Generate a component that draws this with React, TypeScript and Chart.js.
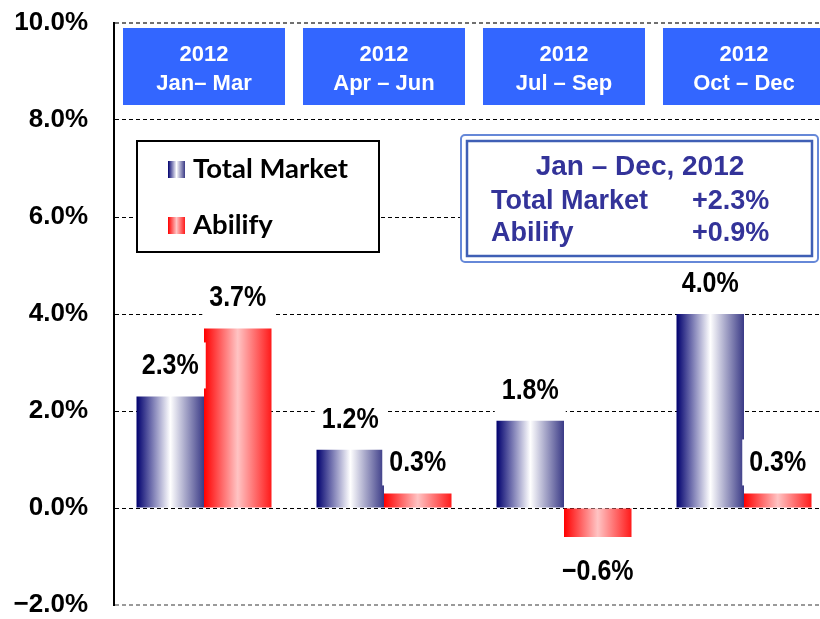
import React, { useEffect, useRef } from 'react';
import { Chart, registerables } from 'chart.js';

Chart.register(...registerables);

// ---- data ----
const periodYears = ['2012', '2012', '2012', '2012'];
const periodNames = ['Jan– Mar', 'Apr – Jun', 'Jul – Sep', 'Oct – Dec'];
const seriesNames = ['Total Market', 'Abilify'];
const totalMarket = [2.3, 1.2, 1.8, 4.0];
const abilify = [3.7, 0.3, -0.6, 0.3];
const yMin = -2;
const yMax = 10;
const yStep = 2;
const summaryTitle = 'Jan – Dec, 2012';
const summaryNames = ['Total Market', 'Abilify'];
const summaryValues = ['+2.3%', '+0.9%'];

const BLUE_STOPS: [number, string][] = [
  [0, '#00006e'],
  [0.5, '#ffffff'],
  [1, '#3a3a86'],
];
const RED_STOPS: [number, string][] = [
  [0, '#ff0000'],
  [0.5, '#ffc4c4'],
  [1, '#ff1a1a'],
];

const fmtPct = (v: number) => (v < 0 ? '\u2212' : '') + Math.abs(v).toFixed(1) + '%';

function grad(ctx: CanvasRenderingContext2D, x0: number, x1: number, stops: [number, string][]) {
  const g = ctx.createLinearGradient(x0, 0, x1, 0);
  stops.forEach(([o, c]) => g.addColorStop(o, c));
  return g;
}

const CAT_PCT = 0.75;

function barFill(stops: [number, string][], fallback: string) {
  return (c: any) => {
    const chart = c.chart;
    const xs = chart.scales && chart.scales.x;
    if (!xs || c.dataIndex === undefined || !chart.chartArea) return fallback;
    const center = xs.getPixelForValue(c.dataIndex);
    const cat = xs.width / periodNames.length;
    const bw = (cat * CAT_PCT) / 2;
    const x0 = c.datasetIndex === 0 ? center - bw : center;
    return grad(chart.ctx, x0, x0 + bw, stops);
  };
}

const overlayPlugin = {
  id: 'overlay',
  afterDatasetsDraw(chart: any) {
    const ctx: CanvasRenderingContext2D = chart.ctx;
    const area = chart.chartArea;
    const xs = chart.scales.x;
    const L = area.left;
    const T = area.top;

    // value labels with white boxes
    ctx.save();
    ctx.font = 'bold 25px "Liberation Sans", Arial, sans-serif';
    ctx.textAlign = 'center';
    ctx.textBaseline = 'middle';
    chart.data.datasets.forEach((ds: any, di: number) => {
      const meta = chart.getDatasetMeta(di);
      meta.data.forEach((el: any, i: number) => {
        const v = ds.data[i];
        const txt = fmtPct(v);
        const cy = v >= 0 ? el.y - 31 : el.y + 34;
        const w = ctx.measureText(txt).width;
        ctx.fillStyle = '#ffffff';
        ctx.fillRect(el.x - w / 2 - 7, cy - 23, w + 14, 46);
        ctx.fillStyle = '#000000';
        ctx.save();
        ctx.translate(el.x, cy + 1);
        ctx.scale(1, 1.15);
        ctx.fillText(txt, 0, 0);
        ctx.restore();
      });
    });
    ctx.restore();

    // header boxes
    ctx.save();
    periodNames.forEach((name, i) => {
      const cx = xs.getPixelForValue(i);
      ctx.fillStyle = '#3366ff';
      ctx.fillRect(cx - 81, T + 5, 162, 77);
      ctx.fillStyle = '#ffffff';
      ctx.font = 'bold 22px "Liberation Sans", Arial, sans-serif';
      ctx.textAlign = 'center';
      ctx.textBaseline = 'alphabetic';
      ctx.fillText(periodYears[i], cx, T + 38);
      ctx.fillText(name, cx, T + 67);
    });
    ctx.restore();

    // legend box
    ctx.save();
    const lx = L + 23;
    const ly = T + 118;
    ctx.fillStyle = '#ffffff';
    ctx.fillRect(lx, ly, 242, 111);
    ctx.strokeStyle = '#000000';
    ctx.lineWidth = 2;
    ctx.strokeRect(lx, ly, 242, 111);
    const sw = [BLUE_STOPS, RED_STOPS];
    seriesNames.forEach((s, k) => {
      const sy = ly + 20 + k * 56;
      ctx.fillStyle = grad(ctx, lx + 31, lx + 48, sw[k]);
      ctx.fillRect(lx + 31, sy, 17, 17);
      ctx.fillStyle = '#000000';
      ctx.font = 'bold 27.5px Lato, "Open Sans", sans-serif';
      ctx.textAlign = 'left';
      ctx.textBaseline = 'alphabetic';
      ctx.fillText(s, lx + 56, sy + 17);
    });
    ctx.restore();

    // summary box
    ctx.save();
    const bx = L + 346;
    const by = T + 111;
    const bw = 359;
    const bh = 129;
    ctx.fillStyle = '#ffffff';
    ctx.fillRect(bx, by, bw, bh);
    ctx.strokeStyle = '#6688d8';
    ctx.lineWidth = 2;
    ctx.beginPath();
    (ctx as any).roundRect ? (ctx as any).roundRect(bx + 1, by + 1, bw - 2, bh - 2, 4) : ctx.rect(bx + 1, by + 1, bw - 2, bh - 2);
    ctx.stroke();
    ctx.strokeStyle = '#3f5fb5';
    ctx.lineWidth = 2.5;
    ctx.strokeRect(bx + 7, by + 7, bw - 14, bh - 14);
    ctx.fillStyle = '#333399';
    ctx.textBaseline = 'alphabetic';
    ctx.font = 'bold 28px "Liberation Sans", Arial, sans-serif';
    ctx.textAlign = 'center';
    ctx.fillText(summaryTitle, bx + 180, by + 41);
    ctx.font = 'bold 27px "Liberation Sans", Arial, sans-serif';
    summaryNames.forEach((n, k) => {
      const yb = by + 75 + k * 32;
      ctx.textAlign = 'left';
      ctx.fillText(n, bx + 31, yb);
      ctx.fillText(summaryValues[k], bx + 232, yb);
    });
    ctx.restore();
  },
};

export default function App() {
  const ref = useRef<HTMLCanvasElement>(null);
  useEffect(() => {
    if (!ref.current) return;
    const chart = new Chart(ref.current, {
      type: 'bar',
      data: {
        labels: periodNames,
        datasets: [
          {
            label: seriesNames[0],
            data: totalMarket,
            backgroundColor: barFill(BLUE_STOPS, '#000080'),
            borderWidth: 0,
          },
          {
            label: seriesNames[1],
            data: abilify,
            backgroundColor: barFill(RED_STOPS, '#ff0000'),
            borderWidth: 0,
          },
        ],
      },
      options: {
        responsive: false,
        devicePixelRatio: 1,
        animation: false,
        layout: { padding: { top: 23, bottom: 35, left: 0, right: 0 } },
        datasets: { bar: { categoryPercentage: CAT_PCT, barPercentage: 1 } },
        plugins: { legend: { display: false }, tooltip: { enabled: false } },
        scales: {
          x: { display: false },
          y: {
            min: yMin,
            max: yMax,
            afterFit: (s: any) => {
              s.width = 114;
              s.paddingTop = 0;
              s.paddingBottom = 0;
            },
            ticks: {
              stepSize: yStep,
              padding: 26,
              color: '#000000',
              font: { family: '"Liberation Sans", Arial, sans-serif', size: 26, weight: 'bold' },
              callback: (v: any) => fmtPct(Number(v)),
            },
            grid: {
              drawTicks: false,
              color: (c: any) => {
                const v = c.tick && c.tick.value;
                if (v === yMin) return '#9a9a9a';
                if (v === yMax) return '#707070';
                return '#000000';
              },
              lineWidth: (c: any) => {
                const v = c.tick && c.tick.value;
                return v === yMin || v === yMax ? 2 : 1;
              },
            },
            border: { display: true, color: '#000000', width: 2, dash: [4, 3] },
          },
        },
      },
      plugins: [overlayPlugin],
    } as any);
    return () => chart.destroy();
  }, []);
  return (
    <div
      style={{
        position: 'fixed',
        left: 0,
        top: 0,
        width: 820,
        height: 619,
        overflow: 'hidden',
        background: '#ffffff',
      }}
    >
      <canvas ref={ref} width={834} height={640} style={{ width: 834, height: 640, display: 'block' }} />
    </div>
  );
}
